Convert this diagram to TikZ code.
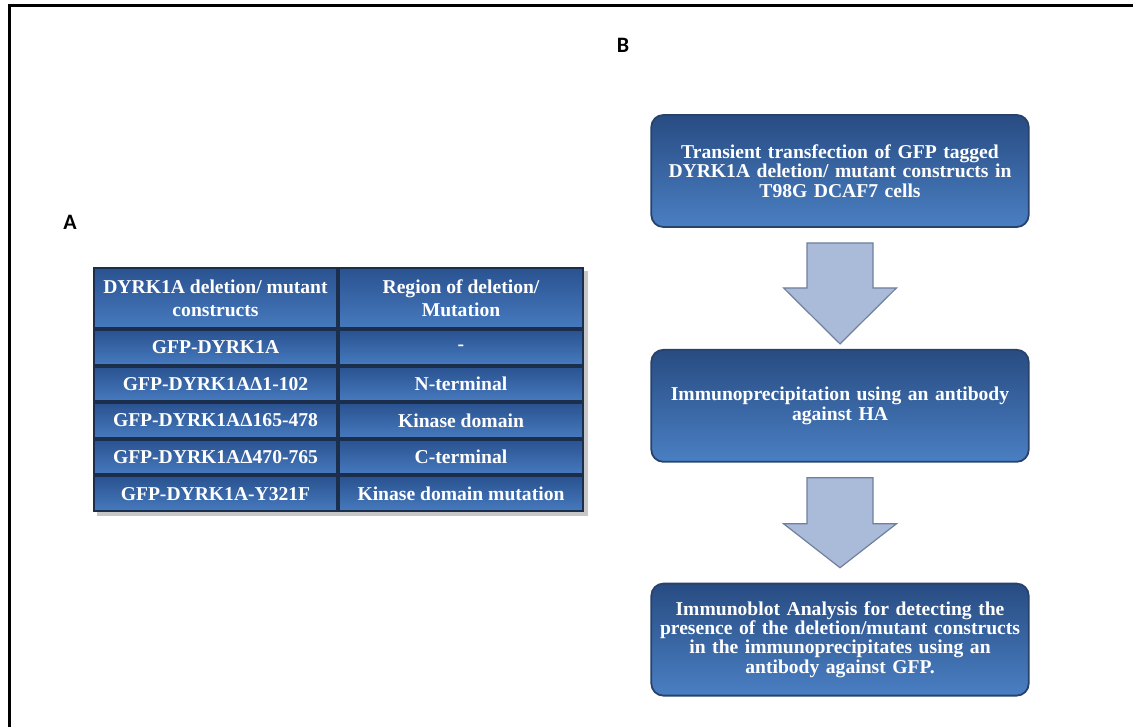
\documentclass[tikz,border=0pt]{standalone}
\usepackage{fontspec}
\setmainfont{Liberation Serif}
\newfontfamily\panelfont{Carlito}
\usetikzlibrary{positioning,calc,backgrounds}

\definecolor{celltop}{HTML}{2A5290}
\definecolor{cellbot}{HTML}{467ABE}
\definecolor{cellline}{HTML}{1B2E4C}
\definecolor{boxtop}{HTML}{284C82}
\definecolor{boxbot}{HTML}{4A7FC3}
\definecolor{boxline}{HTML}{27436C}
\definecolor{arrowfill}{HTML}{A9BBD9}
\definecolor{arrowline}{HTML}{6F7F9C}

\tikzset{
	cell/.style={draw=cellline, line width=1pt, top color=celltop, bottom color=cellbot,
		text=white, font=\bfseries\fontsize{9.8}{11.5}\selectfont,
		minimum width=121.75pt, minimum height=17.3pt, inner sep=0pt, align=center},
	headcell/.style={cell, minimum height=30pt},
	stepbox/.style={draw=boxline, line width=0.9pt, rounded corners=6pt,
		top color=boxtop, bottom color=boxbot, text=white,
		font=\bfseries\fontsize{9.8}{9.6}\selectfont,
		minimum width=187pt, minimum height=56pt, text width=182pt, align=center},
	blockarrow/.style={draw=arrowline, fill=arrowfill, line width=0.6pt, line join=miter},
	panel/.style={font=\panelfont\bfseries\fontsize{11}{13}\selectfont}
}

\begin{document}
\begin{tikzpicture}[x=0.5pt, y=-0.5pt]
	\useasboundingbox (0,0) rectangle (1133,727);
	\draw[line width=1.3pt] (9.5,727) -- (9.5,5.5) -- (1133,5.5);

	\node[panel] (pa) at (70,222) {A};
	\node[panel] (pb) at (623,45) {B};

	\node[headcell] (h1) at (215.5,298) {DYRK1A deletion/ mutant\\constructs};
	\node[headcell, right=0pt of h1] (h2) {Region of deletion/\\Mutation};
	\node[cell, below=0pt of h1] (r1a) {GFP-DYRK1A};
	\node[cell, below=0pt of h2] (r1b) {-};
	\node[cell, below=0pt of r1a] (r2a) {GFP-DYRK1AΔ1-102};
	\node[cell, below=0pt of r1b] (r2b) {N-terminal};
	\node[cell, below=0pt of r2a] (r3a) {GFP-DYRK1AΔ165-478};
	\node[cell, below=0pt of r2b] (r3b) {Kinase domain};
	\node[cell, below=0pt of r3a] (r4a) {GFP-DYRK1AΔ470-765};
	\node[cell, below=0pt of r3b] (r4b) {C-terminal};
	\node[cell, below=0pt of r4a] (r5a) {GFP-DYRK1A-Y321F};
	\node[cell, below=0pt of r4b] (r5b) {Kinase domain mutation};
	\begin{scope}[on background layer]
		\fill[black!22] ($(h1.north west)+(4,4)$) rectangle ($(r5b.south east)+(4,4)$);
	\end{scope}

	\node[stepbox] (s1) at (840,171) {Transient transfection of GFP tagged\\DYRK1A deletion/ mutant constructs in\\T98G DCAF7 cells};
	\node[stepbox, below=60.5pt of s1] (s2) {Immunoprecipitation using an antibody\\against HA};
	\node[stepbox, below=60pt of s2] (s3) {Immunoblot Analysis for detecting the\\presence of the deletion/mutant constructs\\in the immunoprecipitates using an\\antibody against GFP.};

	\draw[blockarrow] ($(s1.south)+(-33,15)$) -- ($(s1.south)+(33,15)$) -- ($(s1.south)+(33,60)$)
		-- ($(s1.south)+(56.5,60)$) -- ($(s2.north)+(0,-5)$) -- ($(s1.south)+(-56.5,60)$)
		-- ($(s1.south)+(-33,60)$) -- cycle;
	\draw[blockarrow] ($(s2.south)+(-33,15)$) -- ($(s2.south)+(33,15)$) -- ($(s2.south)+(33,61)$)
		-- ($(s2.south)+(56.5,61)$) -- ($(s3.north)+(0,-15)$) -- ($(s2.south)+(-56.5,61)$)
		-- ($(s2.south)+(-33,61)$) -- cycle;
\end{tikzpicture}
\end{document}
